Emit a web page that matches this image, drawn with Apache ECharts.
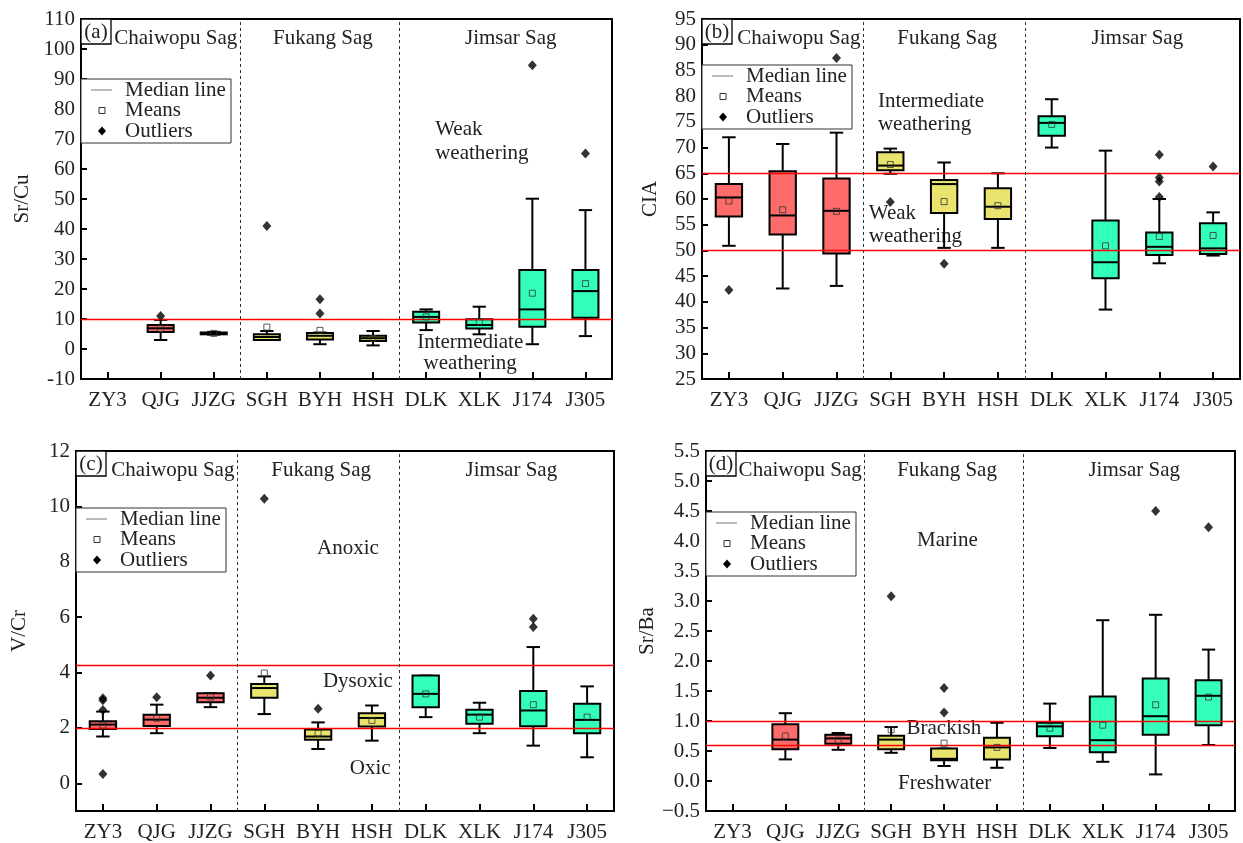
<!DOCTYPE html>
<html><head><meta charset="utf-8">
<script src="https://cdn.jsdelivr.net/npm/echarts@6/dist/echarts.min.js"></script>
<style>html,body{margin:0;padding:0;background:#fff}#c{width:1243px;height:843px}</style>
</head><body><div id="c"></div><script>
// ---------- data ----------
const categories = ['ZY3','QJG','JJZG','SGH','BYH','HSH','DLK','XLK','J174','J305'];
const groupLabels = ['Chaiwopu Sag','Fukang Sag','Jimsar Sag'];

// (a) Sr/Cu
const srCuMin  = [null, 3,   4.8, 3,   1.6, 1.2, 6.3,  4.9,  1.6,  4.3];
const srCuQ1   = [null, 5.7, 4.9, 3,   3.2, 2.7, 8.8,  6.8,  7.4,  10.4];
const srCuMed  = [null, 6.9, 5.2, 4,   4.4, 3.6, 10.7, 8,    13.2, 19.3];
const srCuQ3   = [null, 8,   5.5, 4.9, 5.3, 4.4, 12.4, 9.9,  26.3, 26.3];
const srCuMax  = [null, 9.7, 5.7, 6,   5.5, 6,   13.2, 14.1, 50.1, 46.3];
const srCuMean = [null, 6.8, 5.2, 7.3, 6.2, 3.5, 10.7, 9,    18.6, 21.8];
const srCuOut  = [[], [11], [], [41], [11.8, 16.6], [], [], [], [94.6], [65.2]];

// (b) CIA
const ciaMin  = [50.9, 42.6, 43.1, 64.9, 50.5, 50.5, 70,   38.5, 47.5, 49];
const ciaQ1   = [56.6, 53.1, 49.4, 65.6, 57.3, 56.1, 72.3, 44.6, 49.1, 49.3];
const ciaMed  = [60.3, 56.8, 57.7, 66.5, 62.9, 58.5, 74.8, 47.7, 50.7, 50.4];
const ciaQ3   = [62.9, 65.4, 64,   69.1, 63.7, 62.1, 76.1, 55.8, 53.5, 55.3];
const ciaMax  = [72,   70.7, 72.9, 69.8, 67.1, 65,   79.4, 69.4, 60,   57.4];
const ciaMean = [59.6, 57.9, 57.6, 66.7, 59.5, 58.7, 74.5, 50.9, 52.7, 52.9];
const ciaOut  = [[42.3], [], [87.4], [59.4], [47.4], [], [], [], [60.4, 63.4, 64.2, 68.6], [66.3]];

// (c) V/Cr
const vCrMin  = [1.69, 1.81, 2.75, 2.5,  1.24, 1.54, 2.39, 1.81, 1.36, 0.94];
const vCrQ1   = [1.96, 2.07, 2.93, 3.09, 1.57, 2.05, 2.75, 2.15, 2.06, 1.81];
const vCrMed  = [2.12, 2.3,  3.09, 3.44, 1.69, 2.36, 3.23, 2.48, 2.63, 2.29];
const vCrQ3   = [2.24, 2.48, 3.25, 3.59, 1.94, 2.53, 3.89, 2.66, 3.33, 2.87];
const vCrMax  = [2.59, 2.84, 3.25, 3.86, 2.2,  2.81, 3.89, 2.91, 4.92, 3.5];
const vCrMean = [2.1,  2.35, 3.12, 3.98, 1.81, 2.27, 3.23, 2.39, 2.84, 2.39];
const vCrOut  = [[0.34, 2.65, 3.0, 3.07], [3.11], [3.89], [10.28], [2.69], [], [], [], [5.64, 5.94], []];

// (d) Sr/Ba
const srBaMin  = [null, 0.36, 0.52, 0.47, 0.25,  0.22, 0.55,  0.32, 0.11, 0.6];
const srBaQ1   = [null, 0.53, 0.62, 0.53, 0.345, 0.36, 0.745, 0.48, 0.77, 0.93];
const srBaMed  = [null, 0.69, 0.71, 0.69, 0.37,  0.56, 0.91,  0.68, 1.08, 1.42];
const srBaQ3   = [null, 0.945,0.77, 0.755,0.54,  0.72, 0.97,  1.41, 1.71, 1.68];
const srBaMax  = [null, 1.13, 0.8,  0.9,  0.54,  0.97, 1.29,  2.68, 2.77, 2.19];
const srBaMean = [null, 0.75, 0.68, 0.855,0.63,  0.56, 0.88,  0.93, 1.27, 1.4];
const srBaOut  = [[], [], [], [3.08], [1.14, 1.55], [], [], [], [4.5], [4.23]];

// reference (threshold) lines
const srCuRefs = [10];
const ciaRefs  = [65, 50];
const vCrRefs  = [4.25, 2];
const srBaRefs = [1.0, 0.6];
// group boundaries (between category positions)
const groupBounds = [2.5, 5.5];

// y tick labels
const srCuTicks = [-10,0,10,20,30,40,50,60,70,80,90,100,110];
const ciaTicks  = [25,30,35,40,45,50,55,60,65,70,75,80,85,90,95];
const vCrTicks  = [0,2,4,6,8,10,12];
const srBaTicks = [-0.5,0,0.5,1,1.5,2,2.5,3,3.5,4,4.5,5,5.5];

// ---------- styles / layout ----------
const FONT = '"Liberation Serif","Times New Roman",serif';
const FS = 21;
const TXT = '#222';
const fills = ['#FD6B6B', '#E9E46D', '#33FFBB'];
const grids = [
  {left: 81,  top: 19,  width: 531, height: 360},
  {left: 702, top: 19,  width: 538, height: 360},
  {left: 76,  top: 451, width: 538, height: 360},
  {left: 706, top: 451, width: 529, height: 360}
];
const panels = [
  {tag:'(a)', name:'Sr/Cu', min:-10, max:110, ticks:srCuTicks, dec:0, nameGap:48,
   s:[srCuMin,srCuQ1,srCuMed,srCuQ3,srCuMax], mean:srCuMean, out:srCuOut, refs:srCuRefs, legTop:60,
   notes:[{t:'Weak\nweathering', x:6.17, y:77.3, align:'left', va:'top', lh:24},
          {t:'Intermediate\nweathering', x:6.83, y:5.8, align:'center', va:'top', lh:21}]},
  {tag:'(b)', name:'CIA', min:25, max:95, ticks:ciaTicks, dec:0, nameGap:41,
   s:[ciaMin,ciaQ1,ciaMed,ciaQ3,ciaMax], mean:ciaMean, out:ciaOut, refs:ciaRefs, legTop:46,
   notes:[{t:'Intermediate\nweathering', x:2.77, y:81.2, align:'left', va:'top', lh:23},
          {t:'Weak\nweathering', x:2.60, y:59.4, align:'left', va:'top', lh:23}]},
  {tag:'(c)', name:'V/Cr', min:-1, max:12, ticks:vCrTicks, dec:0, nameGap:46,
   s:[vCrMin,vCrQ1,vCrMed,vCrQ3,vCrMax], mean:vCrMean, out:vCrOut, refs:vCrRefs, legTop:57,
   notes:[{t:'Anoxic', x:3.98, y:8.48, align:'left', va:'middle', lh:21},
          {t:'Dysoxic', x:4.09, y:3.68, align:'left', va:'middle', lh:21},
          {t:'Oxic', x:4.59, y:0.53, align:'left', va:'middle', lh:21}]},
  {tag:'(d)', name:'Sr/Ba', min:-0.5, max:5.5, ticks:srBaTicks, dec:1, nameGap:43,
   s:[srBaMin,srBaQ1,srBaMed,srBaQ3,srBaMax], mean:srBaMean, out:srBaOut, refs:srBaRefs, legTop:61,
   notes:[{t:'Marine', x:3.49, y:4.01, align:'left', va:'middle', lh:21},
          {t:'Brackish', x:3.29, y:0.88, align:'left', va:'middle', lh:21},
          {t:'Freshwater', x:3.13, y:-0.04, align:'left', va:'middle', lh:21}]}
];
function groupOf(i){ return i < 3 ? 0 : (i < 6 ? 1 : 2); }

function renderBox(params, api){
  const i = api.value(0);
  const band = api.size([1, 0])[0];
  const bw = band * 0.49, cw = band * 0.25;
  const x = api.coord([i, api.value(3)])[0];
  const yMin = api.coord([i, api.value(1)])[1];
  const yQ1  = api.coord([i, api.value(2)])[1];
  const yMed = api.coord([i, api.value(3)])[1];
  const yQ3  = api.coord([i, api.value(4)])[1];
  const yMax = api.coord([i, api.value(5)])[1];
  const ls = {stroke:'#000', lineWidth:2};
  return {type:'group', children:[
    {type:'line', shape:{x1:x, y1:yQ3, x2:x, y2:yMax}, style:ls},
    {type:'line', shape:{x1:x, y1:yQ1, x2:x, y2:yMin}, style:ls},
    {type:'line', shape:{x1:x-cw/2, y1:yMax, x2:x+cw/2, y2:yMax}, style:ls},
    {type:'line', shape:{x1:x-cw/2, y1:yMin, x2:x+cw/2, y2:yMin}, style:ls},
    {type:'rect', shape:{x:x-bw/2, y:yQ3, width:bw, height:Math.max(yQ1-yQ3, 1)},
     style:{fill:fills[groupOf(i)], stroke:'#000', lineWidth:2}},
    {type:'line', shape:{x1:x-bw/2, y1:yMed, x2:x+bw/2, y2:yMed}, style:ls}
  ]};
}

const xAxes = [], yAxes = [], series = [];
panels.forEach((p, g) => {
  xAxes[g] = {
    type:'category', gridIndex:g, data:categories, boundaryGap:true,
    axisLine:{show:true, onZero:false, lineStyle:{color:'#000', width:2}},
    axisTick:{show:true, inside:true, length:7, interval:0, alignWithLabel:true, lineStyle:{color:'#000', width:2}},
    axisLabel:{fontFamily:FONT, fontSize:FS, color:TXT, margin:11, interval:0},
    splitLine:{show:false}
  };
  xAxes[4 + g] = {type:'value', gridIndex:g, min:-0.5, max:9.5, show:false};
  yAxes[g] = {
    type:'value', gridIndex:g, min:p.min, max:p.max,
    name:p.name, nameLocation:'middle', nameGap:p.nameGap,
    nameTextStyle:{fontFamily:FONT, fontSize:FS, color:TXT},
    axisLine:{show:true, onZero:false, lineStyle:{color:'#000', width:2}},
    axisTick:{show:true, inside:true, length:6, customValues:p.ticks, lineStyle:{color:'#000', width:2}},
    axisLabel:{fontFamily:FONT, fontSize:FS, color:TXT, margin:6, customValues:p.ticks,
      formatter: v => p.dec ? (v < 0 ? '\u2212' + Math.abs(v).toFixed(p.dec) : v.toFixed(p.dec)) : String(v)},
    splitLine:{show:false}
  };
  // red threshold lines
  p.refs.forEach(v => {
    series.push({
      type:'scatter', xAxisIndex:4+g, yAxisIndex:g, data:[], silent:true, z:1,
      markLine:{silent:true, symbol:'none', animation:false, label:{show:false},
        lineStyle:{color:'#FF0000', width:1.3, type:'solid', opacity:1},
        emphasis:{disabled:true},
        data: [{yAxis:v, lineStyle:{color:'#FF0000', width:1.3, type:'solid'}}]}
    });
  });
  // dashed group separators
  series.push({
    type:'scatter', xAxisIndex:4+g, yAxisIndex:g, data:[], silent:true, z:1,
    markLine:{silent:true, symbol:'none', animation:false, label:{show:false},
      lineStyle:{color:'#333', width:1, type:[3,3]},
      data: groupBounds.map(v => ({xAxis:v}))}
  });
  const boxData = [];
  categories.forEach((c, i) => {
    if (p.s[0][i] != null) boxData.push([i, p.s[0][i], p.s[1][i], p.s[2][i], p.s[3][i], p.s[4][i]]);
  });
  series.push({type:'custom', xAxisIndex:g, yAxisIndex:g, data:boxData, renderItem:renderBox, z:3,
    encode:{x:0, y:[1,2,3,4,5]}});
  const meanData = [];
  p.mean.forEach((v, i) => { if (v != null) meanData.push([i, v]); });
  series.push({type:'scatter', name:'Means', xAxisIndex:g, yAxisIndex:g, data:meanData, z:5,
    symbol:'rect', symbolSize:6, itemStyle:{color:'rgba(0,0,0,0)', borderColor:'#333', borderWidth:1}});
  const outData = [];
  p.out.forEach((arr, i) => arr.forEach(v => outData.push([i, v])));
  series.push({type:'scatter', name:'Outliers', xAxisIndex:g, yAxisIndex:g, data:outData, z:5,
    symbol:'diamond', symbolSize:[9, 10], itemStyle:{color:'#000'}});
});

const chart = echarts.init(document.getElementById('c'));
chart.setOption({
  animation:false,
  backgroundColor:'#fff',
  grid: grids.map(r => Object.assign({show:true, borderColor:'#000', borderWidth:2, backgroundColor:'rgba(0,0,0,0)'}, r)),
  xAxis: xAxes, yAxis: yAxes, series: series
});

// ---------- annotations / legends ----------
const graphics = [];
const font = FS + 'px ' + FONT;
panels.forEach((p, g) => {
  const r = grids[g];
  const px = (x, y) => chart.convertToPixel({xAxisIndex:4+g, yAxisIndex:g}, [x, y]);
  // tag box
  graphics.push({type:'rect', shape:{x:r.left, y:r.top, width:30, height:25}, z:10,
    style:{fill:'#fff', stroke:'#000', lineWidth:1.3}});
  graphics.push({type:'text', z:11, style:{text:p.tag, x:r.left+15, y:r.top+13, align:'center', verticalAlign:'middle', font:font, fill:TXT}});
  // group labels
  const yLab = r.top + 19;
  graphics.push({type:'text', z:11, style:{text:groupLabels[0], x:px(groupBounds[0], 0)[0]-3, y:yLab, align:'right', verticalAlign:'middle', font:font, fill:TXT}});
  graphics.push({type:'text', z:11, style:{text:groupLabels[1], x:px((groupBounds[0]+groupBounds[1])/2, 0)[0]+3, y:yLab, align:'center', verticalAlign:'middle', font:font, fill:TXT}});
  graphics.push({type:'text', z:11, style:{text:groupLabels[2], x:px((groupBounds[1]+9.5)/2, 0)[0]+5, y:yLab, align:'center', verticalAlign:'middle', font:font, fill:TXT}});
  // notes
  p.notes.forEach(n => {
    const pt = px(n.x, n.y);
    graphics.push({type:'text', z:2, style:{text:n.t, x:pt[0], y:pt[1], align:n.align, verticalAlign:n.va, font:font, lineHeight:n.lh, fill:TXT}});
  });
  // legend
  const lx = r.left, ly = r.top + p.legTop;
  graphics.push({type:'rect', z:10, shape:{x:lx, y:ly, width:150, height:64}, style:{fill:'#fff', stroke:'#333', lineWidth:1}});
  const rows = [ly+11, ly+31.5, ly+52];
  graphics.push({type:'line', z:11, shape:{x1:lx+10, y1:rows[0], x2:lx+31, y2:rows[0]}, style:{stroke:'#777', lineWidth:1}});
  graphics.push({type:'rect', z:11, shape:{x:lx+18, y:rows[1]-3, width:6, height:6}, style:{fill:'#fff', stroke:'#333', lineWidth:1}});
  graphics.push({type:'polygon', z:11, shape:{points:[[lx+21, rows[2]-4.5],[lx+25, rows[2]],[lx+21, rows[2]+4.5],[lx+17, rows[2]]]}, style:{fill:'#000'}});
  ['Median line','Means','Outliers'].forEach((t, k) => {
    graphics.push({type:'text', z:11, style:{text:t, x:lx+44, y:rows[k], align:'left', verticalAlign:'middle', font:font, fill:TXT}});
  });
});
chart.setOption({graphic: graphics});
</script></body></html>
